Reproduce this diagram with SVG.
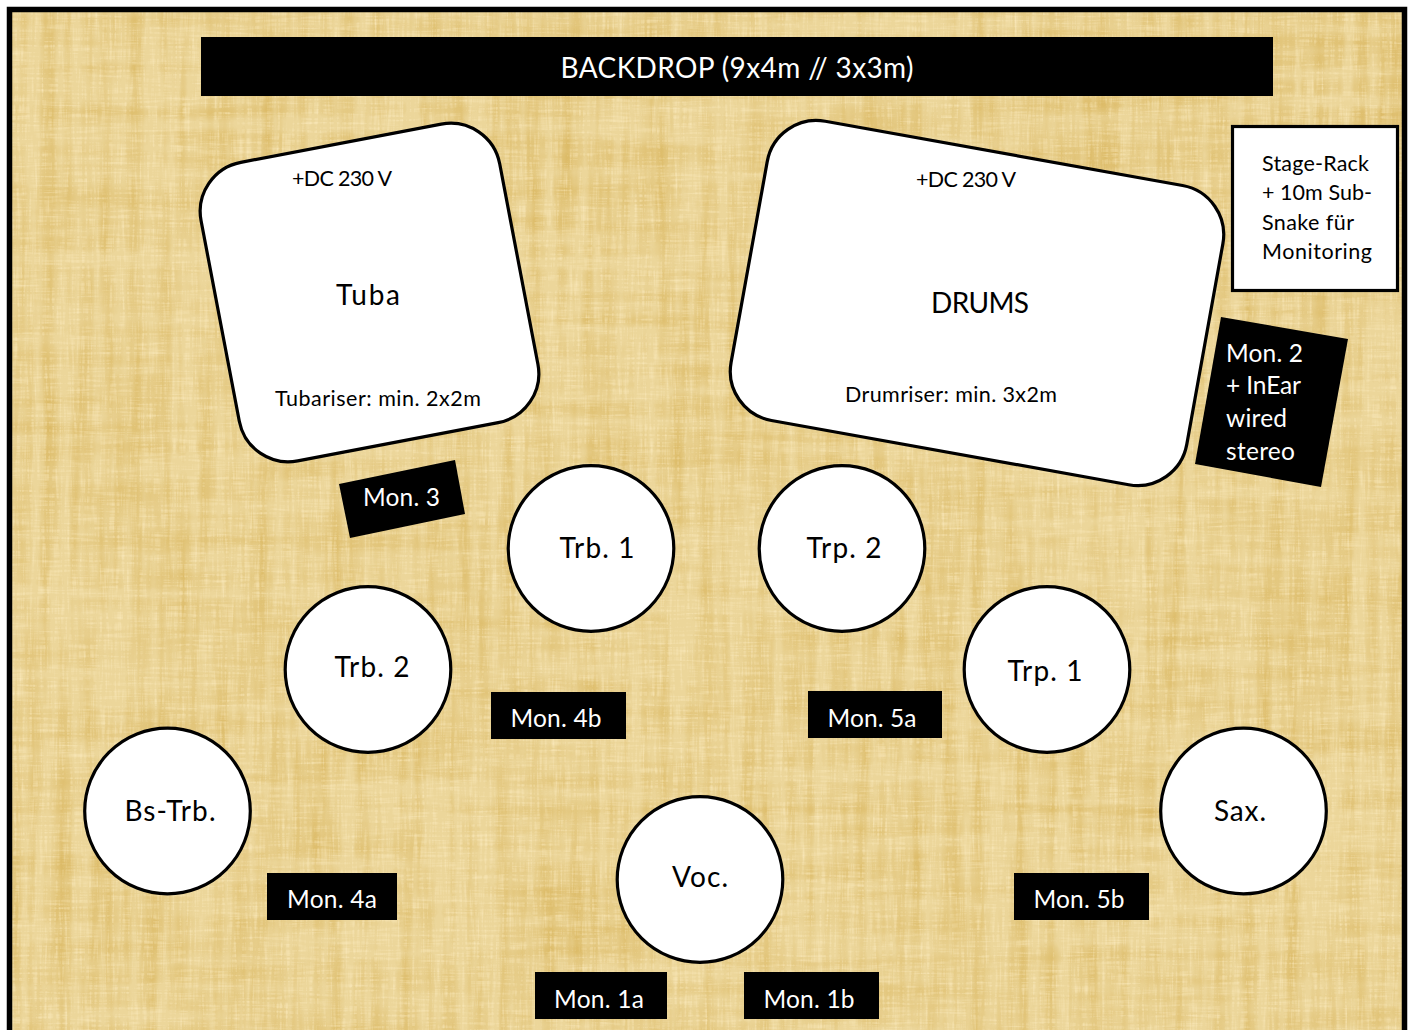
<svg xmlns="http://www.w3.org/2000/svg" width="1414" height="1030" viewBox="0 0 1414 1030">
<style>
text{font-family:Lato,"Open Sans","Liberation Sans",sans-serif;fill:#000}
.w{fill:#fff}
.s{stroke:#000;stroke-width:3.2;fill:#fff}
.b{fill:#000}
.m{font-size:24.5px}
.l{font-size:28px}
.c{font-size:21.5px}
</style>
<defs>
<filter id="tex" x="0" y="0" width="100%" height="100%" color-interpolation-filters="sRGB">
<feTurbulence type="fractalNoise" baseFrequency="0.07 0.004" numOctaves="3" seed="4" result="v"/>
<feTurbulence type="fractalNoise" baseFrequency="0.004 0.06" numOctaves="2" seed="9" result="h"/>
<feComposite in="v" in2="h" operator="arithmetic" k1="0" k2="0.6" k3="0.4" k4="0" result="n"/>
<feColorMatrix in="n" type="matrix" values="0 0 0 0 0  0 0 0 0 0  0 0 0 0 0  2.4 0 0 0 -0.95" result="dark"/>
<feFlood flood-color="#dcbb68" result="c"/>
<feComposite in="c" in2="dark" operator="in" result="shade"/>
<feTurbulence type="fractalNoise" baseFrequency="0.4 0.03" numOctaves="2" seed="14" result="fv"/>
<feTurbulence type="fractalNoise" baseFrequency="0.03 0.4" numOctaves="2" seed="21" result="fh"/>
<feComposite in="fv" in2="fh" operator="arithmetic" k1="0" k2="0.5" k3="0.5" k4="0" result="fn"/>
<feColorMatrix in="fn" type="matrix" values="0 0 0 0 1  0 0 0 0 0.94  0 0 0 0 0.78  1.8 0 0 0 -0.85" result="fine"/>
<feMerge><feMergeNode in="SourceGraphic"/><feMergeNode in="shade"/><feMergeNode in="fine"/></feMerge>
</filter>
</defs>
<rect width="1414" height="1030" fill="#fff"/>
<rect id="stage" x="9.5" y="9.5" width="1395" height="1040" fill="#ecd69a" filter="url(#tex)"/>
<rect x="9.5" y="9.5" width="1395" height="1040" fill="none" stroke="#000" stroke-width="5.5"/>
<g id="backdrop"><rect class="b" x="201" y="37" width="1072" height="59"/><text class="w" style="font-size:28px" x="737" y="78" text-anchor="middle" textLength="353">BACKDROP (9x4m // 3x3m)</text></g>
<g id="connectors"/>
<g id="tuba"><rect class="s" x="217.5" y="140.5" width="304" height="304" rx="50" transform="rotate(-10.8 369.5 292.5)"/><text class="c" x="342" y="186" text-anchor="middle" textLength="100">+DC 230 V</text><text class="l" x="368" y="305" text-anchor="middle" textLength="64">Tuba</text><text class="c" x="378" y="406" text-anchor="middle" textLength="206">Tubariser: min. 2x2m</text></g>
<g id="drums"><rect class="s" x="745.5" y="151" width="463" height="304" rx="50" transform="rotate(10.2 977 303)"/><text class="c" x="966" y="187" text-anchor="middle" textLength="100">+DC 230 V</text><text class="l" x="980" y="313" text-anchor="middle" textLength="98">DRUMS</text><text class="c" x="951" y="402" text-anchor="middle" textLength="212">Drumriser: min. 3x2m</text></g>
<g id="rack"><rect class="s" x="1232.5" y="126.5" width="165" height="164"/><text class="c" x="1262" y="171" textLength="107">Stage-Rack</text><text class="c" x="1262" y="200" textLength="110">+ 10m Sub-</text><text class="c" x="1262" y="230" textLength="92">Snake für</text><text class="c" x="1262" y="259" textLength="110">Monitoring</text></g>
<g id="mon2"><polygon class="b" points="1221,317 1348,339 1321,487 1195,464"/><text class="w m" x="1226" y="362" textLength="77">Mon. 2</text><text class="w m" x="1226" y="394" textLength="75">+ InEar</text><text class="w m" x="1226" y="427" textLength="61">wired</text><text class="w m" x="1226" y="460" textLength="69">stereo</text></g>
<g id="mon3"><polygon class="b" points="339,484 455,460 465,514 350,538"/><text class="w m" x="363" y="506" textLength="77">Mon. 3</text></g>
<g id="trb1"><circle class="s" cx="591" cy="548.5" r="82.8"/><text class="l" x="597" y="558" text-anchor="middle" textLength="75">Trb. 1</text></g>
<g id="trp2"><circle class="s" cx="842" cy="548.5" r="82.8"/><text class="l" x="844" y="558" text-anchor="middle" textLength="75">Trp. 2</text></g>
<g id="trb2"><circle class="s" cx="368" cy="669.5" r="82.8"/><text class="l" x="372" y="677" text-anchor="middle" textLength="75">Trb. 2</text></g>
<g id="trp1"><circle class="s" cx="1047" cy="669.5" r="82.8"/><text class="l" x="1045" y="681" text-anchor="middle" textLength="75">Trp. 1</text></g>
<g id="bstrb"><circle class="s" cx="167.5" cy="811" r="82.8"/><text class="l" x="170" y="821" text-anchor="middle" textLength="91">Bs-Trb.</text></g>
<g id="sax"><circle class="s" cx="1243.5" cy="811" r="82.8"/><text class="l" x="1240" y="821" text-anchor="middle" textLength="52">Sax.</text></g>
<g id="voc"><circle class="s" cx="700" cy="879.5" r="82.8"/><text class="l" x="700" y="887" text-anchor="middle" textLength="56">Voc.</text></g>
<g id="mon4b"><rect class="b" x="491" y="692" width="135" height="47"/><text class="w m" x="556" y="727" text-anchor="middle" textLength="91">Mon. 4b</text></g>
<g id="mon5a"><rect class="b" x="808" y="691" width="134" height="47"/><text class="w m" x="872" y="727" text-anchor="middle" textLength="89">Mon. 5a</text></g>
<g id="mon4a"><rect class="b" x="267" y="873" width="130" height="47"/><text class="w m" x="332" y="908" text-anchor="middle" textLength="90">Mon. 4a</text></g>
<g id="mon5b"><rect class="b" x="1014" y="873" width="135" height="47"/><text class="w m" x="1079" y="908" text-anchor="middle" textLength="91">Mon. 5b</text></g>
<g id="mon1a"><rect class="b" x="535" y="972" width="132" height="47"/><text class="w m" x="599" y="1008" text-anchor="middle" textLength="90">Mon. 1a</text></g>
<g id="mon1b"><rect class="b" x="744" y="972" width="135" height="47"/><text class="w m" x="809" y="1008" text-anchor="middle" textLength="91">Mon. 1b</text></g>
</svg>
